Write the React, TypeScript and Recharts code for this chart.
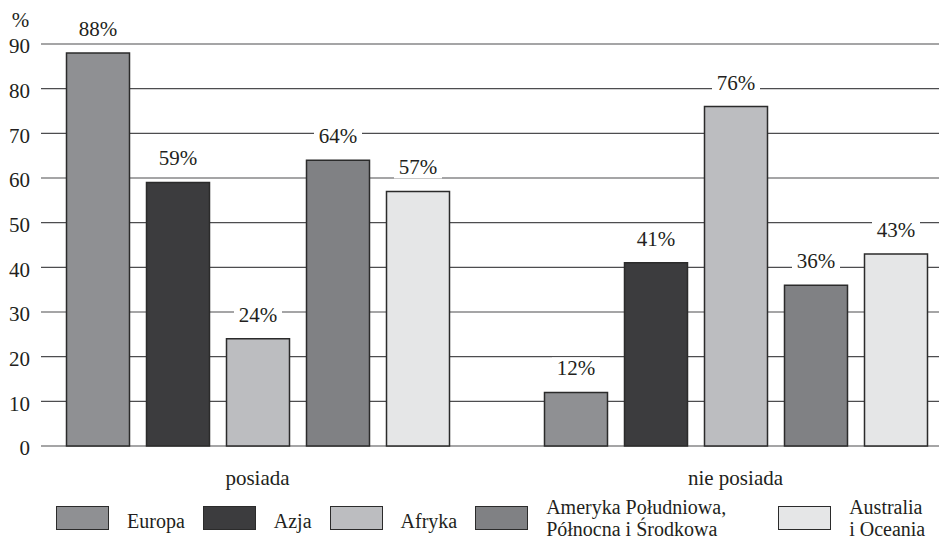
import React from 'react';
import { BarChart, Bar, XAxis, YAxis, CartesianGrid, LabelList } from 'recharts';

const groups = ['posiada', 'nie posiada'];
const europa = [88, 12];
const azja = [59, 41];
const afryka = [24, 76];
const ameryka = [64, 36];
const australia = [57, 43];
const yTicks = [0, 10, 20, 30, 40, 50, 60, 70, 80, 90];

const series = [
  { key: 'europa', name: 'Europa', values: europa, color: '#8f9093' },
  { key: 'azja', name: 'Azja', values: azja, color: '#3c3c3e' },
  { key: 'afryka', name: 'Afryka', values: afryka, color: '#bcbdc0' },
  { key: 'ameryka', name: 'Ameryka Południowa,\nPółnocna i Środkowa', values: ameryka, color: '#808184' },
  { key: 'australia', name: 'Australia\ni Oceania', values: australia, color: '#e5e6e7' },
];

const chartData = groups.map((group, i) => {
  const row: Record<string, string | number> = { group };
  series.forEach((s) => {
    row[s.key] = s.values[i];
  });
  return row;
});

const FONT = '"Liberation Serif", "Times New Roman", serif';
const INK = '#231f20';

// value over the bar, on a white patch so the grid line stops around it
function ValueLabel(props: any) {
  const { x, y, width, value } = props;
  const cx = x + width / 2;
  return (
    <g>
      <rect x={cx - 24} y={y - 35} width={48} height={22} fill="#fff" />
      <text x={cx} y={y - 17} textAnchor="middle" style={{ fontFamily: FONT }} fontSize={21} fill={INK}>
        {`${value}%`}
      </text>
    </g>
  );
}

function ChartLegend() {
  return (
    <div
      style={{
        position: 'absolute',
        left: 56,
        top: 496,
        height: 44,
        display: 'flex',
        alignItems: 'center',
        fontFamily: FONT,
        fontSize: 20,
        color: INK,
      }}
    >
      {series.map((s, i) => (
        <div
          key={s.key}
          style={{ display: 'flex', alignItems: 'center', marginLeft: i === 0 ? 0 : i === 4 ? 52 : 18 }}
        >
          <div
            style={{
              width: 51,
              height: 22,
              background: s.color,
              border: '1.5px solid #2b2b2b',
              marginRight: 18,
            }}
          />
          <div style={{ lineHeight: '22px', marginTop: i < 3 ? 6 : 0 }}>
            {s.name.split('\n').map((line) => (
              <div key={line}>{line}</div>
            ))}
          </div>
        </div>
      ))}
    </div>
  );
}

export default function App() {
  return (
    <div style={{ position: 'absolute', left: 0, top: 0, width: 939, height: 542, overflow: 'hidden', background: '#fff' }}>
      <BarChart
        width={939}
        height={542}
        data={chartData}
        margin={{ top: 44, right: 0, bottom: 66, left: 0 }}
        barSize={63}
        barGap={17}
        style={{ fontFamily: FONT }}
      >
        <CartesianGrid horizontal vertical={false} stroke="#4d4d4f" strokeWidth={1.2} />
        <XAxis
          dataKey="group"
          height={30}
          axisLine={false}
          tickLine={false}
          tickSize={0}
          tickMargin={24}
          padding={{ left: -22.5, right: -35.5 }}
          tick={{ fontFamily: FONT, fontSize: 21, fill: INK }}
        />
        <YAxis
          width={41}
          domain={[0, 90]}
          ticks={yTicks}
          axisLine={false}
          tickLine={false}
          tickSize={0}
          tickMargin={11}
          tick={{ fontFamily: FONT, fontSize: 21, fill: INK, dy: 2 }}
          label={{ value: '%', position: 'top', offset: 17, fontFamily: FONT, fontSize: 21, fill: INK }}
        />
        {series.map((s) => (
          <Bar
            key={s.key}
            dataKey={s.key}
            name={s.name}
            fill={s.color}
            stroke="#2b2b2b"
            strokeWidth={1.5}
            isAnimationActive={false}
          >
            <LabelList dataKey={s.key} content={<ValueLabel />} />
          </Bar>
        ))}
      </BarChart>
      <ChartLegend />
    </div>
  );
}
